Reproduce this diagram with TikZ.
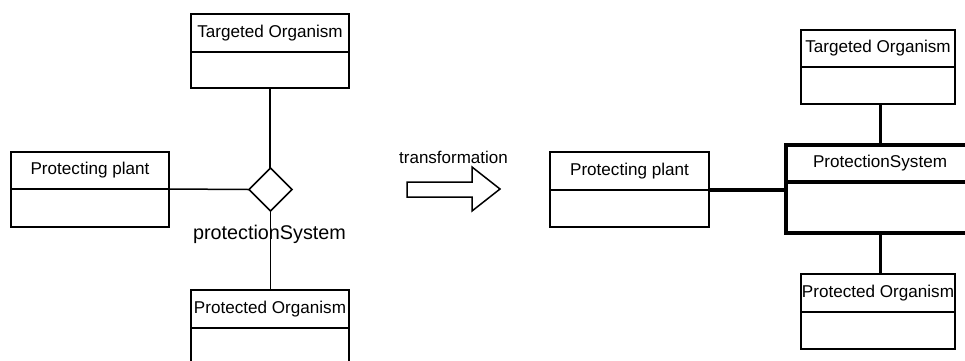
\documentclass[tikz,border=0pt]{standalone}
\usepackage{fontspec}
\setmainfont{Liberation Sans}
\usetikzlibrary{shapes.geometric}
\begin{document}
\begin{tikzpicture}[x=1pt,y=-1pt,
  every node/.style={inner sep=0pt, outer sep=0pt},
  slim/.style={line width=1.5pt},
  heavy/.style={line width=3.2pt},
  cell/.style={draw, slim, anchor=north west, font=\fontsize{17.1}{20}\selectfont},
  heavycell/.style={cell, heavy},
  caption/.style={font=\fontsize{17}{20}\selectfont},
  bigcaption/.style={font=\fontsize{19.8}{23}\selectfont}]
\useasboundingbox (0,0) rectangle (965,360);
\clip (0,0) rectangle (965,360);

% ---- ternary association: before ----
\node[cell, minimum width=158, minimum height=38] (tgtL) at (191,14) {Targeted Organism};
\node[cell, minimum width=158, minimum height=36] (tgtLb) at (191,52) {};

\node[cell, minimum width=158, minimum height=37] (ppL) at (11,152) {Protecting plant};
\node[cell, minimum width=158, minimum height=38] (ppLb) at (11,189) {};

\node[cell, minimum width=158, minimum height=38] (prtL) at (191,290) {Protected Organism};
\node[cell, minimum width=158, minimum height=36] (prtLb) at (191,328) {};

\node[draw, slim, diamond, aspect=1, minimum width=43, minimum height=43] (ps) at (270.5,189.5) {};
\node[bigcaption] (psl) at (269.5,234) {protectionSystem};

\draw[slim] (tgtLb.south) -- (tgtLb.south |- ps.north);
\draw[slim] (ps.south) -- (ps.south |- prtL.north);
\draw[slim] (ppL.south east) -- (ps.west);

% ---- transformation arrow ----
\node[caption] (trl) at (453.5,157) {transformation};
\draw[slim, line join=miter] (407,182) -- (472,182) -- (472,167) -- (500,189)
  -- (472,211) -- (472,197) -- (407,197) -- cycle;

% ---- association class: after ----
\node[cell, minimum width=159, minimum height=38] (ppR) at (550,152) {Protecting plant};
\node[cell, minimum width=159, minimum height=37] (ppRb) at (550,190) {};

\node[cell, minimum width=154, minimum height=37] (tgtR) at (801,30) {Targeted Organism};
\node[cell, minimum width=154, minimum height=37] (tgtRb) at (801,67) {};

\node[heavycell, minimum width=189, minimum height=37] (psys) at (786,145) {\hspace*{-1pt}ProtectionSystem};
\node[heavycell, minimum width=189, minimum height=51] (psysb) at (786,182) {};

\node[cell, minimum width=154, minimum height=38] (prtR) at (801,274) {Protected Organism};
\node[cell, minimum width=154, minimum height=37] (prtRb) at (801,312) {};

\draw[heavy] (psys.north) -- (psys.north |- tgtRb.south);
\draw[heavy] (psysb.south) -- (psysb.south |- prtR.north);
\draw[heavy] (ppR.south east) -- (ppR.south east -| psysb.west);
\end{tikzpicture}
\end{document}
